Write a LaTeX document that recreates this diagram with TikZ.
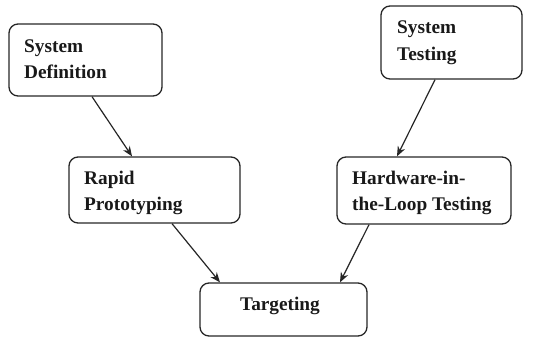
\documentclass[tikz,border=0pt]{standalone}
\usepackage{fontspec}
\setmainfont{Liberation Serif}
\usetikzlibrary{arrows.meta}
\begin{document}
\begin{tikzpicture}[x=1pt,y=-1pt,
  box/.style={draw=black!85,line width=1.3pt,rounded corners=9pt,rectangle,inner sep=0pt},
  lbl/.style={anchor=base west,inner sep=0pt,font=\fontsize{19.3}{26}\selectfont\bfseries,text=black!90},
  arr/.style={draw=black!85,line width=1.2pt,-{Stealth[length=10pt,width=8pt]}}]
\useasboundingbox (0,0) rectangle (533,338);
\node[box,minimum width=153pt,minimum height=72pt] (sd) at (85.5,60) {};
\node[box,minimum width=141pt,minimum height=73pt] (st) at (451.5,42.5) {};
\node[box,minimum width=171pt,minimum height=66pt] (rp) at (154.5,190) {};
\node[box,minimum width=174pt,minimum height=67pt] (hil) at (424,190.5) {};
\node[box,minimum width=167pt,minimum height=53pt] (tg) at (283.5,309.5) {};
\node[lbl] (sd1) at (24,52) {System};
\node[lbl] (sd2) at (24,78) {Definition};
\node[lbl] (st1) at (397,33) {System};
\node[lbl] (st2) at (397,60) {Testing};
\node[lbl] (rp1) at (84,184) {Rapid};
\node[lbl] (rp2) at (84,210) {Prototyping};
\node[lbl] (hil1) at (352,184) {Hardware-in-};
\node[lbl] (hil2) at (352,210) {the-Loop Testing};
\node[lbl,anchor=base] (tg1) at (280,310) {Targeting};
\draw[arr] ([xshift=6.5pt]sd.south) -- ([xshift=-22.5pt]rp.north);
\draw[arr] ([xshift=-16.5pt]st.south) -- ([xshift=-27pt]hil.north);
\draw[arr] ([xshift=17.5pt]rp.south) -- ([xshift=-63.5pt]tg.north);
\draw[arr] ([xshift=-55pt]hil.south) -- ([xshift=56.5pt]tg.north);
\end{tikzpicture}
\end{document}
